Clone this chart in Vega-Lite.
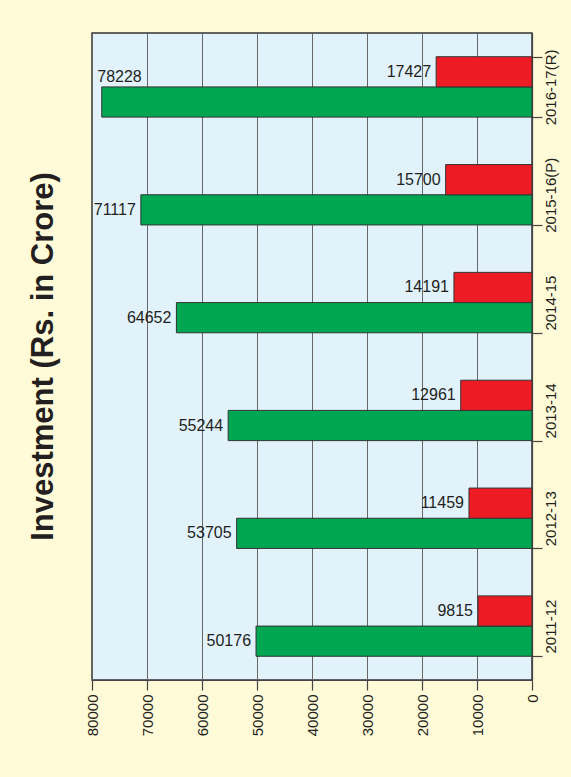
{
  "$schema": "https://vega.github.io/schema/vega-lite/v6.json",
  "width": 440,
  "height": 647,
  "autosize": {"type": "none"},
  "padding": {"left": 92, "top": 33, "right": 39, "bottom": 97},
  "background": "#fffad8",
  "title": {
    "text": "Investment (Rs. in Crore)",
    "orient": "left",
    "anchor": "middle",
    "font": "Liberation Sans",
    "fontSize": 31,
    "fontWeight": "bold",
    "color": "#231f20",
    "offset": -6,
    "baseline": "bottom"
  },
  "config": {
    "view": {"fill": "#e1f2fb", "stroke": "#333333", "strokeWidth": 1.5},
    "axis": {
      "labelFont": "Liberation Sans",
      "labelFontSize": 15,
      "labelColor": "#231f20",
      "domainColor": "#444444",
      "tickColor": "#444444",
      "tickSize": 10,
      "domainWidth": 1.2,
      "tickWidth": 1.2
    }
  },
  "data": {
    "values": [
      {"year": "2011-12", "series": "A", "value": 50176},
      {"year": "2011-12", "series": "B", "value": 9815},
      {"year": "2012-13", "series": "A", "value": 53705},
      {"year": "2012-13", "series": "B", "value": 11459},
      {"year": "2013-14", "series": "A", "value": 55244},
      {"year": "2013-14", "series": "B", "value": 12961},
      {"year": "2014-15", "series": "A", "value": 64652},
      {"year": "2014-15", "series": "B", "value": 14191},
      {"year": "2015-16(P)", "series": "A", "value": 71117},
      {"year": "2015-16(P)", "series": "B", "value": 15700},
      {"year": "2016-17(R)", "series": "A", "value": 78228},
      {"year": "2016-17(R)", "series": "B", "value": 17427}
    ]
  },
  "encoding": {
    "y": {
      "field": "year",
      "type": "nominal",
      "sort": ["2016-17(R)", "2015-16(P)", "2014-15", "2013-14", "2012-13", "2011-12"],
      "scale": {"paddingInner": 0.44, "paddingOuter": 0.22},
      "axis": {
        "orient": "right",
        "title": null,
        "labelAngle": -90,
        "labelAlign": "center",
        "labelBaseline": "top",
        "labelPadding": 1,
        "tickBand": "extent"
      }
    },
    "yOffset": {"field": "series", "type": "nominal", "sort": ["B", "A"], "scale": {"paddingInner": 0}},
    "x": {
      "field": "value",
      "type": "quantitative",
      "scale": {"domain": [0, 80000], "reverse": true, "nice": false},
      "axis": {
        "title": null,
        "values": [0, 10000, 20000, 30000, 40000, 50000, 60000, 70000, 80000],
        "labelAngle": -90,
        "labelAlign": "right",
        "labelBaseline": "middle",
        "labelPadding": 4,
        "grid": true,
        "gridColor": "#666666",
        "gridWidth": 1,
        "format": "d"
      }
    }
  },
  "layer": [
    {
      "mark": {"type": "bar", "stroke": "#333333", "strokeWidth": 1},
      "encoding": {
        "color": {
          "field": "series",
          "type": "nominal",
          "scale": {"domain": ["A", "B"], "range": ["#00a651", "#ed1c24"]},
          "legend": null
        }
      }
    },
    {
      "transform": [{"filter": "!(datum.year == '2016-17(R)' && datum.series == 'A')"}],
      "mark": {"type": "text", "align": "right", "baseline": "middle", "dx": -5, "fontSize": 16, "font": "Liberation Sans", "color": "#231f20"},
      "encoding": {"text": {"field": "value", "type": "quantitative", "format": "d"}}
    },
    {
      "transform": [{"filter": "datum.year == '2016-17(R)' && datum.series == 'A'"}],
      "mark": {"type": "text", "align": "right", "baseline": "middle", "dx": 40, "dy": -25, "fontSize": 16, "font": "Liberation Sans", "color": "#231f20"},
      "encoding": {"text": {"field": "value", "type": "quantitative", "format": "d"}}
    }
  ]
}
